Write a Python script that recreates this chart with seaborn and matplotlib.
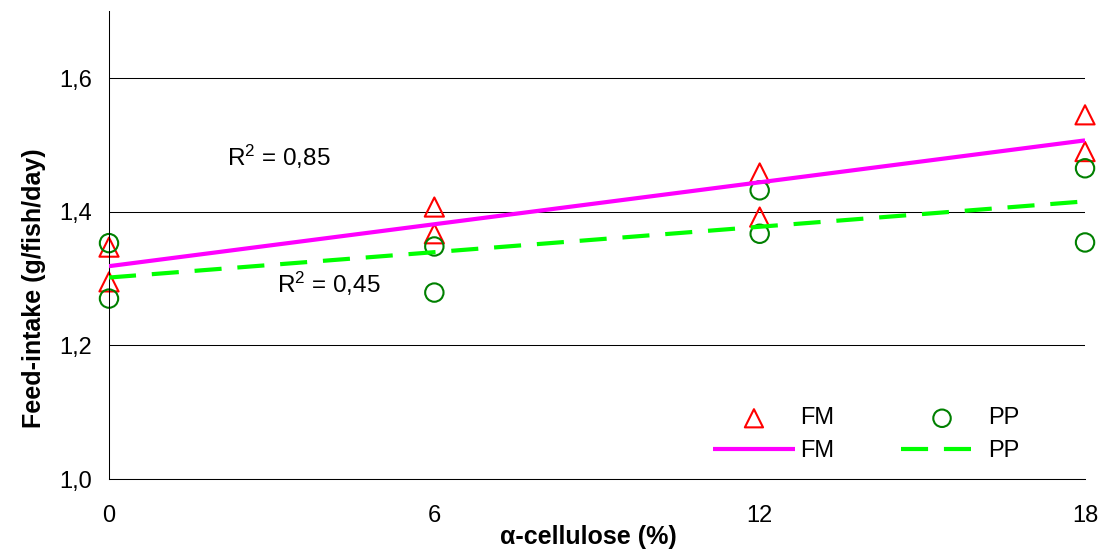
import numpy as np
import pandas as pd
import seaborn as sns
import matplotlib.pyplot as plt
from matplotlib.ticker import FixedLocator, FuncFormatter

# Feed intake (g/fish/day) for two replicate tanks per cellulose level
cellulose = [0, 0, 6, 6, 12, 12, 18, 18]
fm_intake = [1.347, 1.295, 1.407, 1.367, 1.458, 1.392, 1.545, 1.490]
pp_intake = [1.353, 1.270, 1.348, 1.279, 1.432, 1.367, 1.465, 1.354]
r2_labels = ["0,85", "0,45"]
x_ticks = [0, 6, 12, 18]
y_ticks = [1.0, 1.2, 1.4, 1.6]

df = pd.DataFrame({
    "cellulose": cellulose * 2,
    "intake": fm_intake + pp_intake,
    "diet": ["FM"] * len(fm_intake) + ["PP"] * len(pp_intake),
})
fm = df[df["diet"] == "FM"]
pp = df[df["diet"] == "PP"]

sns.set_theme(style="white")
plt.rcParams["font.family"] = ["Liberation Sans", "DejaVu Sans"]
plt.rcParams.update({
    "text.color": "black",
    "axes.labelcolor": "black",
    "xtick.color": "black",
    "ytick.color": "black",
    "mathtext.fontset": "custom",
    "mathtext.rm": "Liberation Sans",
    "mathtext.it": "Liberation Sans:italic",
})

fig = plt.figure(figsize=(11.01, 5.49), dpi=100)
ax = fig.add_axes([0.099, 0.1275, 0.8865, 0.852])

# Replicate observations
sns.scatterplot(data=fm, x="cellulose", y="intake", ax=ax, marker="^", s=190,
                facecolor="none", edgecolor="#FF0000", linewidth=1.5,
                label="FM", clip_on=False, zorder=2)
sns.scatterplot(data=pp, x="cellulose", y="intake", ax=ax, marker="o", s=175,
                facecolor="none", edgecolor="#008000", linewidth=1.5,
                label="PP", clip_on=False, zorder=2)

# Linear trend lines
sns.regplot(data=fm, x="cellulose", y="intake", ax=ax, scatter=False, ci=None,
            truncate=True, label="FM",
            line_kws=dict(color="#FF00FF", lw=3, zorder=3, solid_capstyle="butt"))
sns.regplot(data=pp, x="cellulose", y="intake", ax=ax, scatter=False, ci=None,
            truncate=True, label="PP",
            line_kws=dict(color="#00FF00", lw=3, zorder=3, dashes=(6.5, 3.8)))

ax.text(2.17, 1.468, "R$^{2}$ = " + r2_labels[0], fontsize=17.5)
ax.text(3.09, 1.278, "R$^{2}$ = " + r2_labels[1], fontsize=17.5)

ax.set_xlim(0, 18)
ax.set_ylim(1.0, 1.7)
ax.xaxis.set_major_locator(FixedLocator(x_ticks))
ax.yaxis.set_major_locator(FixedLocator(y_ticks))
ax.yaxis.set_major_formatter(FuncFormatter(lambda v, p: f"{v:.1f}".replace(".", ",")))
ax.tick_params(axis="both", direction="out", length=6.5, width=0.75, labelsize=17)
ax.tick_params(axis="x", pad=12)
ax.tick_params(axis="y", pad=6)
ax.yaxis.grid(True, color="black", lw=0.75)
ax.set_axisbelow(True)

for side in ["top", "right"]:
    ax.spines[side].set_visible(False)
for side in ["left", "bottom"]:
    ax.spines[side].set_color("black")
    ax.spines[side].set_linewidth(0.75)

label_font = ["Liberation Sans Narrow", "Liberation Sans", "DejaVu Sans"]
ax.set_xlabel("α-cellulose (%)", fontsize=18, fontweight="bold", family=label_font)
ax.set_ylabel("Feed-intake (g/fish/day)", fontsize=18, fontweight="bold", family=label_font)
ax.xaxis.set_label_coords(0.491, -0.098)
ax.yaxis.set_label_coords(-0.065, 0.408)

handles, labels = ax.get_legend_handles_labels()
# order: FM points, FM line, PP points, PP line (two columns)
order = [0, 2, 1, 3]
ax.legend([handles[i] for i in order], [labels[i] for i in order],
          ncol=2, frameon=False, fontsize=17, loc="upper left",
          bbox_to_anchor=(0.639, 0.275), bbox_transform=fig.transFigure,
          borderaxespad=0, handlelength=3.47, handletextpad=0.2,
          columnspacing=2.85, labelspacing=0.45, markerscale=0.95,
          scatterpoints=1)

fig.savefig("out.png", dpi=100)
